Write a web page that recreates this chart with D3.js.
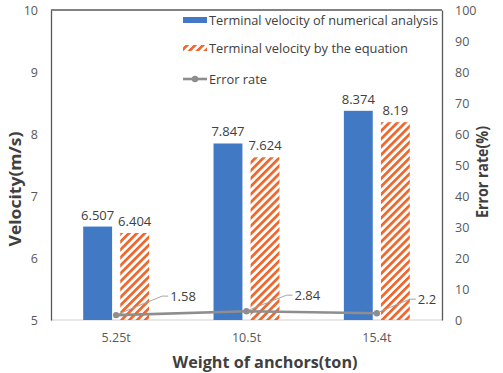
<!DOCTYPE html>
<html>
<head>
<meta charset="utf-8">
<script src="https://cdn.jsdelivr.net/npm/d3@7"></script>
<style>
  body { margin: 0; background: #fff; }
  svg { display: block; font-family: "Open Sans", "Noto Sans", sans-serif; }
</style>
</head>
<body>
<div id="chart"></div>
<script>
// chart data
const categories = ["5.25t", "10.5t", "15.4t"];
const numericalVelocity = [6.507, 7.847, 8.374];
const equationVelocity = [6.404, 7.624, 8.19];
const errorRate = [1.58, 2.84, 2.2];
const errorLabels = ["1.58", "2.84", "2.2"];
const velocityTicks = [5, 6, 7, 8, 9, 10];
const errorTicks = [0, 10, 20, 30, 40, 50, 60, 70, 80, 90, 100];
const seriesNames = [
  "Terminal velocity of numerical analysis",
  "Terminal velocity by the equation",
  "Error rate"
];

// where each error label sits relative to its point (leader elbow dx, dy)
const labelOffsets = [[46, -19], [40, -16], [33, -14]];

const blue = "#4279C4";
const orange = "#EE652A";
const grey = "#8E8E8E";
const textColor = "#404040";
const tickColor = "#595959";

const width = 503, height = 373;
const plot = { left: 51, right: 442, top: 10, bottom: 320 };

const svg = d3.select("#chart")
  .append("svg")
  .attr("width", width)
  .attr("height", height);

svg.append("rect").attr("width", width).attr("height", height).attr("fill", "#fff");

// hatch pattern for the equation bars
const pattern = svg.append("defs").append("pattern")
  .attr("id", "hatch")
  .attr("patternUnits", "userSpaceOnUse")
  .attr("width", 5.6)
  .attr("height", 5.6)
  .attr("patternTransform", "rotate(45)");
pattern.append("rect")
  .attr("width", 2.7)
  .attr("height", 5.6)
  .attr("fill", orange);

// scales
const x0 = d3.scaleBand()
  .domain(categories)
  .range([plot.left, plot.right])
  .paddingInner(0.494)
  .paddingOuter(0.247);

const x1 = d3.scaleBand()
  .domain(["num", "eq"])
  .range([0, x0.bandwidth()])
  .paddingInner(0.22);

const y = d3.scaleLinear().domain([5, 10]).range([plot.bottom, plot.top]);
const y2 = d3.scaleLinear().domain([0, 100]).range([plot.bottom, plot.top]);

// frame lines
svg.append("line")
  .attr("x1", plot.left).attr("x2", plot.right)
  .attr("y1", plot.top).attr("y2", plot.top)
  .attr("stroke", tickColor).attr("stroke-width", 1.3);

svg.append("line")
  .attr("x1", plot.left).attr("x2", plot.right)
  .attr("y1", plot.bottom).attr("y2", plot.bottom)
  .attr("stroke", "#d0d0d0").attr("stroke-width", 1);

// left axis
const leftAxis = svg.append("g")
  .attr("transform", `translate(${plot.left},0)`)
  .call(d3.axisLeft(y).tickValues(velocityTicks).tickSize(0).tickPadding(13).tickFormat(d3.format("d")));
leftAxis.select(".domain").attr("stroke", tickColor).attr("stroke-width", 1.3);

// right axis
const rightAxis = svg.append("g")
  .attr("transform", `translate(${plot.right},0)`)
  .call(d3.axisRight(y2).tickValues(errorTicks).tickSize(0).tickPadding(13).tickFormat(d3.format("d")));
rightAxis.select(".domain").attr("stroke", tickColor).attr("stroke-width", 1.3);

// bottom axis (labels only)
const bottomAxis = svg.append("g")
  .attr("transform", `translate(0,${plot.bottom})`)
  .call(d3.axisBottom(x0).tickSize(0).tickPadding(13));
bottomAxis.select(".domain").remove();

svg.selectAll(".tick text")
  .attr("font-family", "\"Open Sans\", sans-serif")
  .attr("font-size", 12.5)
  .attr("fill", tickColor);

// bars
const groups = svg.selectAll(".group")
  .data(categories)
  .enter()
  .append("g")
  .attr("class", "group")
  .attr("transform", (d) => `translate(${x0(d)},0)`);

groups.append("rect")
  .attr("x", x1("num"))
  .attr("y", (d, i) => y(numericalVelocity[i]))
  .attr("width", x1.bandwidth())
  .attr("height", (d, i) => plot.bottom - y(numericalVelocity[i]))
  .attr("fill", blue);

groups.append("rect")
  .attr("x", x1("eq"))
  .attr("y", (d, i) => y(equationVelocity[i]))
  .attr("width", x1.bandwidth())
  .attr("height", (d, i) => plot.bottom - y(equationVelocity[i]))
  .attr("fill", "url(#hatch)");

// bar value labels
groups.append("text")
  .attr("x", x1("num") + x1.bandwidth() / 2)
  .attr("y", (d, i) => y(numericalVelocity[i]) - 7)
  .attr("text-anchor", "middle")
  .attr("font-size", 13)
  .attr("fill", textColor)
  .text((d, i) => numericalVelocity[i].toFixed(3));

groups.append("text")
  .attr("x", x1("eq") + x1.bandwidth() / 2)
  .attr("y", (d, i) => y(equationVelocity[i]) - 7)
  .attr("text-anchor", "middle")
  .attr("font-size", 13)
  .attr("fill", textColor)
  .text((d, i) => String(equationVelocity[i]));

// error rate line
const cx = (d) => x0(d) + x0.bandwidth() / 2;
const line = d3.line()
  .x((d) => cx(d))
  .y((d, i) => y2(errorRate[i]));

svg.append("path")
  .datum(categories)
  .attr("d", line)
  .attr("fill", "none")
  .attr("stroke", grey)
  .attr("stroke-width", 2.6);

svg.selectAll(".marker")
  .data(categories)
  .enter()
  .append("circle")
  .attr("class", "marker")
  .attr("cx", (d) => cx(d))
  .attr("cy", (d, i) => y2(errorRate[i]))
  .attr("r", 3.2)
  .attr("fill", grey);

// error labels with leader lines
svg.selectAll(".leader")
  .data(categories)
  .enter()
  .append("polyline")
  .attr("class", "leader")
  .attr("points", (d, i) => {
    const px = cx(d), py = y2(errorRate[i]);
    const [dx, dy] = labelOffsets[i];
    return `${px + 2},${py - 1} ${px + dx},${py + dy} ${px + dx + 6},${py + dy}`;
  })
  .attr("fill", "none")
  .attr("stroke", "#a6a6a6")
  .attr("stroke-width", 1);

svg.selectAll(".err-label")
  .data(categories)
  .enter()
  .append("text")
  .attr("class", "err-label")
  .attr("x", (d, i) => cx(d) + labelOffsets[i][0] + 8)
  .attr("y", (d, i) => y2(errorRate[i]) + labelOffsets[i][1])
  .attr("dy", "0.35em")
  .attr("font-size", 13)
  .attr("fill", textColor)
  .text((d, i) => errorLabels[i]);

// legend
const legend = svg.append("g").attr("transform", "translate(183,0)");
const legendY = [20, 48, 79];
const legendWidths = [229, 199, 58];

legend.append("rect")
  .attr("x", 0).attr("y", legendY[0] - 3)
  .attr("width", 24).attr("height", 6)
  .attr("fill", blue);

legend.append("rect")
  .attr("x", 0).attr("y", legendY[1] - 3)
  .attr("width", 24).attr("height", 6)
  .attr("fill", "url(#hatch)");

legend.append("line")
  .attr("x1", 0).attr("x2", 24)
  .attr("y1", legendY[2]).attr("y2", legendY[2])
  .attr("stroke", grey).attr("stroke-width", 2.6);
legend.append("circle")
  .attr("cx", 12).attr("cy", legendY[2]).attr("r", 3.2)
  .attr("fill", grey);

legend.selectAll(".legend-text")
  .data(seriesNames)
  .enter()
  .append("text")
  .attr("class", "legend-text")
  .attr("x", 26)
  .attr("y", (d, i) => legendY[i])
  .attr("dy", "0.35em")
  .attr("font-size", 13.5)
  .attr("fill", textColor)
  .attr("textLength", (d, i) => legendWidths[i])
  .attr("lengthAdjust", "spacingAndGlyphs")
  .text((d) => d);

// axis titles
svg.append("text")
  .attr("transform", "translate(15,189) rotate(-90)")
  .attr("text-anchor", "middle")
  .attr("dy", "0.35em")
  .attr("font-size", 16)
  .attr("font-weight", "bold")
  .attr("fill", textColor)
  .attr("textLength", 115)
  .attr("lengthAdjust", "spacingAndGlyphs")
  .text("Velocity(m/s)");

svg.append("text")
  .attr("transform", "translate(482,172) rotate(-90)")
  .attr("text-anchor", "middle")
  .attr("dy", "0.35em")
  .attr("font-size", 16)
  .attr("font-weight", "bold")
  .attr("fill", textColor)
  .attr("textLength", 92)
  .attr("lengthAdjust", "spacingAndGlyphs")
  .text("Error rate(%)");

svg.append("text")
  .attr("x", 265)
  .attr("y", 362)
  .attr("text-anchor", "middle")
  .attr("dy", "0.35em")
  .attr("font-size", 16)
  .attr("font-weight", "bold")
  .attr("fill", textColor)
  .attr("textLength", 185)
  .attr("lengthAdjust", "spacingAndGlyphs")
  .text("Weight of anchors(ton)");
</script>
</body>
</html>
